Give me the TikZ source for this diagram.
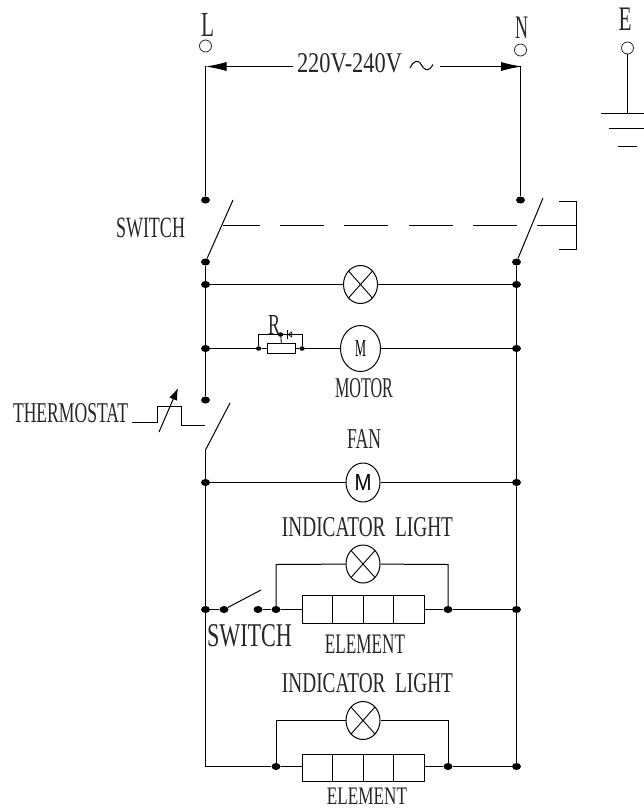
\documentclass[tikz,border=0pt]{standalone}
\usepackage{fontspec}
\usepackage{graphicx}
\setmainfont{Liberation Serif}
\usetikzlibrary{shapes.geometric,arrows.meta}
\newcommand{\fit}[3]{\resizebox{#1pt}{#2pt}{#3}}
\tikzset{
  wire/.style={line width=1pt,black},
  lbl/.style={inner sep=0pt,outer sep=0pt,text=black!85},
  jdot/.style={ellipse,fill=black,draw=none,minimum width=9pt,minimum height=7pt,inner sep=0pt},
  sdot/.style={ellipse,fill=black,draw=none,minimum width=5.5pt,minimum height=4.5pt,inner sep=0pt},
  term/.style={circle,draw=black!85,line width=0.8pt,minimum size=12pt,inner sep=0pt},
  lamp/.style={ellipse,draw=black,line width=1pt,minimum width=34pt,minimum height=38pt,inner sep=0pt,
    path picture={\draw[line width=0.9pt,black]
      ([shift={(-12pt,-13.5pt)}]path picture bounding box.center) -- ([shift={(12pt,13.5pt)}]path picture bounding box.center)
      ([shift={(-12pt,13.5pt)}]path picture bounding box.center) -- ([shift={(12pt,-13.5pt)}]path picture bounding box.center);}},
  mot/.style={ellipse,draw=black,line width=1pt,inner sep=0pt},
  elem/.style={rectangle,draw=black,line width=1pt,minimum width=122pt,minimum height=27.5pt,inner sep=0pt,
    path picture={\draw[line width=1pt,black]
      ([xshift=-30.5pt]path picture bounding box.north) -- ([xshift=-30.5pt]path picture bounding box.south)
      (path picture bounding box.north) -- (path picture bounding box.south)
      ([xshift=30.5pt]path picture bounding box.north) -- ([xshift=30.5pt]path picture bounding box.south);}},
  bigtip/.style={-{Latex[length=21pt,width=9pt]}}
}
\begin{document}
\begin{tikzpicture}[x=1pt,y=-1pt]
\useasboundingbox (0,0) rectangle (644,808);
% terminals
\node[term] (tL) at (205.5,46) {};
\node[term] (tN) at (520.5,50) {};
\node[term] (tE) at (627.5,48) {};
\node[lbl] (lL) at (207.5,24.5) {\fit{13}{23}{L}};
\node[lbl] (lN) at (521.5,27.5) {\fit{13}{21.5}{N}};
\node[lbl] (lE) at (625,19.5) {\fit{13}{22.5}{E}};
% earth
\coordinate (g1l) at (601,113.5); \coordinate (g1r) at (644,113.5);
\coordinate (g1m) at (627.5,113.5);
\coordinate (g2l) at (609,128.5); \coordinate (g2r) at (644,128.5);
\coordinate (g3l) at (618,146.5); \coordinate (g3r) at (637,146.5);
\draw[wire] (tE) -- (g1m);
\draw[wire] (g1l) -- (g1r) (g2l) -- (g2r) (g3l) -- (g3r);
% supply
\coordinate (aL) at (205.5,66.5); \coordinate (aN) at (522,66.5);
\node[lbl] (volt) at (349.5,63.5) {\fit{105}{19}{220V-240V}};
\coordinate (tildeA) at (410,68);
\draw[wire] (tildeA) .. controls (414,60) and (418,59) .. (421.5,65) .. controls (425,71) and (429,72) .. (433,64.5);
\coordinate (vR) at (440,66.5); \coordinate (vL) at (293,66.5);
\draw[wire,bigtip] (vL) -- (aL);
\draw[wire,bigtip] (vR) -- (aN);
% main switch
\node[jdot] (s1t) at (205.5,200) {};
\node[jdot] (s2t) at (520.5,200) {};
\node[jdot] (s1b) at (205.5,262) {};
\node[jdot] (s2b) at (516.5,262) {};
\coordinate (aNd) at (520.5,66.5);
\draw[wire] (aL) -- (s1t);
\draw[wire] (aNd) -- (s2t);
\coordinate (b1) at (233,200); \coordinate (b2) at (543,198);
\draw[wire] (s1b) -- (b1);
\draw[wire] (s2b) -- (b2);
\node[lbl] (lsw1) at (150.5,228) {\fit{69}{19.5}{SWITCH}};
\coordinate (d0) at (223,225.5); \coordinate (d1) at (260,225.5);
\coordinate (d2) at (280,225.5); \coordinate (d3) at (324,225.5);
\coordinate (d4) at (344,225.5); \coordinate (d5) at (388,225.5);
\coordinate (d6) at (409,225.5); \coordinate (d7) at (453,225.5);
\coordinate (d8) at (473,225.5); \coordinate (d9) at (517,225.5);
\coordinate (d10) at (537,225.5); \coordinate (d11) at (576.5,225.5);
\draw[wire] (d0)--(d1) (d2)--(d3) (d4)--(d5) (d6)--(d7) (d8)--(d9) (d10)--(d11);
\coordinate (br1) at (559,201.5); \coordinate (br2) at (576.5,201.5);
\coordinate (br3) at (576.5,249.5); \coordinate (br4) at (559,249.5);
\draw[wire] (br1)--(br2)--(br3)--(br4);
% lamp row
\node[jdot] (r1l) at (205.5,284.5) {};
\node[jdot] (r1r) at (516.5,284.5) {};
\node[lamp] (lamp1) at (360.5,284.5) {};
\draw[wire] (r1l) -- (lamp1) -- (r1r);
% motor row
\node[jdot] (r2l) at (205.5,348.5) {};
\node[jdot] (r2r) at (516.5,348.5) {};
\node[sdot] (ra) at (258.7,348.5) {};
\node[sdot] (rb) at (302,348.5) {};
\node[rectangle,draw=black,line width=0.9pt,minimum width=28pt,minimum height=10pt,inner sep=0pt] (res) at (281.7,348.5) {};
\node[mot,minimum width=40pt,minimum height=46pt] (motor) at (360.5,348.5) {\fit{11}{16}{M}};
\node[sdot] (wip) at (280.7,334.5) {};
\draw[wire] (r2l) -- (ra) -- (res) -- (rb) -- (motor) -- (r2r);
\coordinate (ta) at (258.7,334.5); \coordinate (tb) at (302,334.5);
\draw[line width=0.9pt,black] (ra) -- (ta) -- (tb) -- (rb);
\draw[line width=0.9pt,black] (wip) -- (res);
\node[isosceles triangle,isosceles triangle apex angle=70,draw=black,line width=0.7pt,minimum size=3.5pt,inner sep=0pt,shape border rotate=180] (dio) at (290.5,334.5) {};
\coordinate (dio1) at (287.8,330); \coordinate (dio2) at (287.8,339);
\draw[line width=0.8pt,black] (dio1) -- (dio2);
\node[lbl] (lR) at (274,324.5) {\fit{12}{19}{R}};
\node[lbl] (lmotor) at (364,388.5) {\fit{58}{19}{MOTOR}};
% thermostat
\node[jdot] (thT) at (205.5,400) {};
\coordinate (thB) at (205.5,450); \coordinate (thE) at (230,403);
\draw[wire] (s1b) -- (r1l) -- (r2l) -- (thT);
\draw[wire] (thB) -- (thE);
\node[lbl] (lth) at (70.5,413) {\fit{115}{19}{THERMOSTAT}};
\coordinate (p1) at (132,422.5); \coordinate (p2) at (157.5,422.5); \coordinate (p3) at (157.5,406.5);
\coordinate (p4) at (181,406.5); \coordinate (p5) at (181,425); \coordinate (p6) at (205,425);
\draw[wire] (p1)--(p2)--(p3)--(p4)--(p5)--(p6);
\coordinate (ar1) at (159,432); \coordinate (ar2) at (178,388);
\draw[line width=1pt,black,-{Latex[length=12pt,width=8.5pt]}] (ar1) -- (ar2);
% fan row
\node[lbl] (lfan) at (364,438.5) {\fit{34}{19}{FAN}};
\node[jdot] (r3l) at (205.5,482.5) {};
\node[jdot] (r3r) at (516.5,482.5) {};
\node[mot,minimum width=34pt,minimum height=39pt,font=\fontspec{Liberation Sans}] (fan) at (363,482.5) {\fit{17}{16}{M}};
\draw[wire] (r3l) -- (fan) -- (r3r);
% indicator 1
\node[lbl] (li1) at (367.5,527.5) {\fit{171}{19}{INDICATOR\ \ LIGHT}};
\node[lamp] (lamp2) at (363,564) {};
\node[jdot] (r4l) at (205.5,609.5) {};
\node[jdot] (r4a) at (224,609.5) {};
\node[jdot] (r4b) at (258,609.5) {};
\node[jdot] (r4c) at (276,609.5) {};
\node[elem] (el1) at (363,609.5) {};
\node[jdot] (r4d) at (448,609.5) {};
\node[jdot] (r4r) at (516.5,609.5) {};
\coordinate (c1) at (276,564.5); \coordinate (c2) at (448,564.5);
\coordinate (sw2) at (261,590);
\draw[wire] (r4l) -- (r4a);
\draw[wire] (r4a) -- (sw2);
\draw[wire] (r4b) -- (r4c) -- (el1) -- (r4d) -- (r4r);
\draw[wire] (r4c) -- (c1) -- (lamp2) -- (c2) -- (r4d);
\node[lbl] (lsw2) at (249.5,636) {\fit{85}{22}{SWITCH}};
\node[lbl] (lel1) at (365,644) {\fit{80}{18.5}{ELEMENT}};
% indicator 2
\node[lbl] (li2) at (367.5,683.5) {\fit{171}{19}{INDICATOR\ \ LIGHT}};
\node[lamp] (lamp3) at (363,720.5) {};
\node[jdot] (r5c) at (276,766.5) {};
\node[elem] (el2) at (363,768) {};
\node[jdot] (r5d) at (448,766.5) {};
\node[jdot] (r5r) at (516.5,766.5) {};
\coordinate (c3) at (276,720.5); \coordinate (c4) at (448,720.5);
\coordinate (corner) at (205.5,766.5);
\coordinate (e2l) at (302,766.5); \coordinate (e2r) at (424,766.5);
\draw[wire] (thB) -- (r3l) -- (r4l) -- (corner) -- (r5c) -- (e2l);
\draw[wire] (e2r) -- (r5d) -- (r5r);
\draw[wire] (r5c) -- (c3) -- (lamp3) -- (c4) -- (r5d);
\draw[wire] (s2b) -- (r1r) -- (r2r) -- (r3r) -- (r4r) -- (r5r);
\node[lbl] (lel2) at (367,796.5) {\fit{80}{16.5}{ELEMENT}};
\end{tikzpicture}
\end{document}
